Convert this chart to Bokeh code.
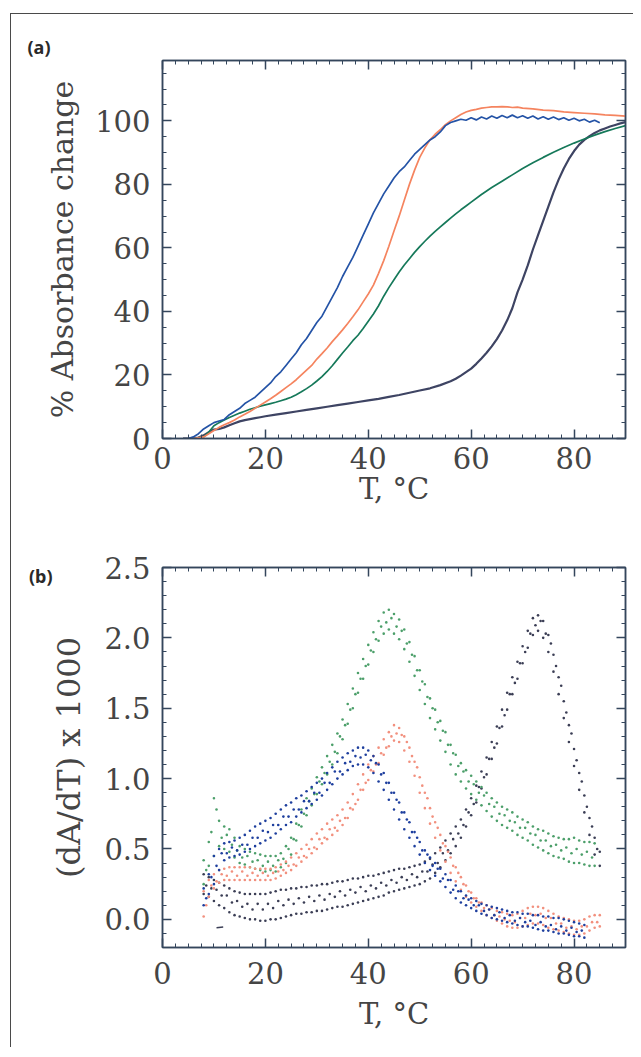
from bokeh.plotting import figure
from bokeh.models import (LinearAxis, SingleIntervalTicker, FixedTicker, Range1d,
                          PrintfTickFormatter, CustomJSTickFormatter)
from bokeh.layouts import column
from bokeh.embed import file_html
from bokeh.resources import INLINE

# ---------------- Panel (a): % absorbance change vs T ----------------
T_BLUE_A = list(range(4, 86))
A_BLUE = [0, 0, 0.5, 1.5, 3, 4, 5, 5.5, 6, 7.5, 8.5, 9.5, 11, 12, 13, 14.5, 16, 17.5,
          19.5, 21, 23, 25, 27, 29.5, 31.5, 34, 36.5, 38.5, 41.5, 44.5, 47.5, 51, 54,
          57, 60.5, 64, 67.5, 71, 74, 77, 79.5, 82, 84, 85.5, 87.5, 89.5, 91, 92.5, 94,
          95, 96.5, 98.5, 99.5, 100, 100.5, 100.2, 101, 100.3, 101.2, 100.6, 101.5,
          100.8, 101.7, 101, 101.8, 101, 101.6, 100.8, 101.5, 100.6, 101.3, 100.5,
          101.2, 100.4, 101, 100.2, 100.8, 100, 100.5, 99.6, 100.2, 99.4]

T_ORANGE_A = [4, 6, 8] + list(range(9, 71)) + list(range(72, 91, 2))
A_ORANGE = [0, 0, 0.5, 1.5, 2.5, 3.5, 4.3, 5, 5.8, 6.8, 7.6, 8.5, 9.5, 10.5, 11.5, 12.5,
            13.6, 14.8, 16, 17.2, 18.5, 20, 21.5, 23, 25, 26.7, 28.5, 30.5, 32.3, 34.2,
            36.2, 38.3, 40.5, 43, 45.5, 48.3, 52, 56, 60.5, 65.3, 70, 75, 80, 84.5, 88.5,
            91.5, 94, 95.8, 97.2, 98.8, 100, 101, 102, 102.8, 103.3, 103.6, 104, 104.2,
            104.4, 104.4, 104.5, 104.4, 104.2, 104.3, 104, 103.8, 103.4, 103.2, 102.8,
            102.6, 102.4, 102.2, 101.9, 101.7, 101.5]

T_GREEN_A = [4, 6] + list(range(8, 61)) + list(range(62, 91, 2))
A_GREEN = [0, 0, 0.5, 2, 4, 5, 5.8, 6.6, 7.3, 8, 8.6, 9.2, 9.7, 10.2, 10.6, 11, 11.4, 11.9,
           12.4, 13, 13.8, 14.7, 15.7, 16.8, 18.1, 19.5, 21.1, 22.9, 24.9, 26.9, 28.8,
           30.8, 32.5, 34.6, 36.9, 39.2, 41.8, 44.8, 47.5, 50.0, 52.4, 54.6, 56.6, 58.6,
           60.4, 62.1, 63.7, 65.2, 66.6, 68.0, 69.4, 70.7, 72.0, 73.2, 74.4, 76.8, 79.0,
           81.0, 83.0, 85.0, 86.8, 88.5, 90.1, 91.6, 93.0, 94.3, 95.5, 96.6, 97.6, 98.5]

T_DARK_A = [4, 6, 7] + list(range(8, 21)) + list(range(22, 55, 2)) + list(range(56, 91))
A_DARK = [0, 0, 0.3, 1, 2, 2.8, 3.0, 3.5, 4.2, 4.8, 5.4, 5.8, 6.1, 6.4, 6.7, 7,
          7.5, 8, 8.5, 9, 9.5, 10, 10.5, 11, 11.5, 12, 12.5, 13.1, 13.7, 14.4, 15.1, 15.8, 16.8,
          18, 18.8, 19.8, 20.9, 22, 23.5, 25.2, 27, 29, 31.3, 34, 37.2, 41, 46, 50, 54.5,
          59.5, 64, 68.5, 73, 77.5, 81.5, 85, 88, 90.5, 92.5, 94, 95.2, 96.2, 97, 97.6,
          98.2, 98.7, 99.2, 99.6]

# ---------------- Panel (b): (dA/dT) x 1000 vs T ----------------
# each dot band: upper edge, lower edge (at whole degrees) and a middle row (at half degrees)
T_GREEN_B = list(range(8, 85))
D_GREEN_HI = [0.42, 0.55, 0.86, 0.70, 0.66, 0.64, 0.58, 0.52, 0.50, 0.48,
              0.47, 0.46, 0.45, 0.45, 0.45, 0.47, 0.52, 0.58, 0.68, 0.78,
              0.86, 0.93, 1.01, 1.08, 1.16, 1.24, 1.32, 1.42, 1.53, 1.64,
              1.75, 1.85, 1.95, 2.04, 2.12, 2.18, 2.20, 2.17, 2.13, 2.06,
              1.97, 1.87, 1.77, 1.67, 1.57, 1.49, 1.41, 1.33, 1.24, 1.17,
              1.11, 1.06, 1.02, 0.98, 0.94, 0.90, 0.86, 0.83, 0.80, 0.78,
              0.76, 0.73, 0.71, 0.69, 0.66, 0.64, 0.63, 0.61, 0.59, 0.58,
              0.57, 0.57, 0.58, 0.56, 0.55, 0.55, 0.54]
D_GREEN_LO = [0.25, 0.38, 0.45, 0.52, 0.50, 0.48, 0.44, 0.40, 0.39, 0.37,
              0.36, 0.35, 0.34, 0.35, 0.34, 0.37, 0.40, 0.46, 0.56, 0.66,
              0.74, 0.81, 0.89, 0.96, 1.03, 1.10, 1.18, 1.28, 1.39, 1.50,
              1.61, 1.71, 1.81, 1.90, 1.98, 2.03, 2.06, 2.03, 1.99, 1.92,
              1.83, 1.73, 1.63, 1.53, 1.43, 1.35, 1.27, 1.19, 1.10, 1.03,
              0.98, 0.93, 0.89, 0.85, 0.81, 0.77, 0.73, 0.70, 0.67, 0.65,
              0.63, 0.60, 0.58, 0.56, 0.53, 0.51, 0.49, 0.47, 0.45, 0.44,
              0.43, 0.41, 0.40, 0.40, 0.39, 0.38, 0.38]
T_GREEN_BM = [t + 0.5 for t in range(8, 84)]
D_GREEN_MID = [0.35, 0.62, 0.78, 0.58, 0.60, 0.53, 0.49, 0.44, 0.45, 0.41,
               0.42, 0.38, 0.41, 0.38, 0.42, 0.43, 0.50, 0.57, 0.67, 0.75,
               0.84, 0.89, 0.98, 1.04, 1.12, 1.19, 1.30, 1.38, 1.49, 1.60,
               1.71, 1.80, 1.91, 1.99, 2.08, 2.11, 2.14, 2.08, 2.05, 1.96,
               1.88, 1.77, 1.69, 1.58, 1.50, 1.40, 1.34, 1.24, 1.18, 1.09,
               1.05, 0.98, 0.96, 0.90, 0.88, 0.82, 0.80, 0.75, 0.74, 0.70,
               0.69, 0.65, 0.65, 0.61, 0.60, 0.56, 0.56, 0.52, 0.53, 0.49,
               0.51, 0.47, 0.50, 0.46, 0.48, 0.44]

T_BLUE_B = list(range(8, 83))
D_BLUE_HI = [0.22, 0.32, 0.45, 0.50, 0.54, 0.55, 0.56, 0.58, 0.60, 0.63,
             0.66, 0.68, 0.70, 0.72, 0.75, 0.78, 0.81, 0.83, 0.86, 0.88,
             0.91, 0.94, 0.97, 1.00, 1.04, 1.08, 1.12, 1.15, 1.18, 1.20,
             1.22, 1.22, 1.20, 1.16, 1.10, 1.04, 0.97, 0.90, 0.83, 0.76,
             0.69, 0.62, 0.55, 0.49, 0.44, 0.40, 0.36, 0.32, 0.28, 0.24,
             0.20, 0.17, 0.15, 0.13, 0.11, 0.10, 0.09, 0.08, 0.07, 0.06,
             0.05, 0.05, 0.04, 0.04, 0.03, 0.03, 0.02, 0.02, 0.01, 0.01,
             0.00, -0.01, -0.02, -0.03, -0.04]
D_BLUE_LO = [0.10, 0.18, 0.25, 0.35, 0.42, 0.44, 0.45, 0.46, 0.48, 0.50,
             0.52, 0.54, 0.56, 0.58, 0.61, 0.64, 0.67, 0.69, 0.73, 0.76,
             0.79, 0.82, 0.85, 0.88, 0.92, 0.96, 1.00, 1.03, 1.06, 1.09,
             1.10, 1.10, 1.08, 1.04, 0.98, 0.92, 0.85, 0.78, 0.71, 0.64,
             0.58, 0.52, 0.46, 0.40, 0.35, 0.31, 0.27, 0.23, 0.19, 0.15,
             0.12, 0.10, 0.08, 0.06, 0.04, 0.03, 0.01, 0.00, -0.01, -0.02,
             -0.03, -0.04, -0.05, -0.05, -0.06, -0.07, -0.08, -0.08, -0.09, -0.10,
             -0.10, -0.11, -0.12, -0.12, -0.13]
T_BLUE_BM = [t + 0.5 for t in range(8, 82)]
D_BLUE_MID = [0.15, 0.30, 0.38, 0.47, 0.47, 0.51, 0.49, 0.53, 0.53, 0.58,
              0.58, 0.63, 0.62, 0.67, 0.67, 0.73, 0.73, 0.78, 0.78, 0.84,
              0.84, 0.90, 0.90, 0.97, 0.97, 1.05, 1.05, 1.11, 1.12, 1.16,
              1.15, 1.17, 1.13, 1.11, 1.03, 0.97, 0.90, 0.85, 0.76, 0.71,
              0.62, 0.58, 0.49, 0.46, 0.38, 0.36, 0.29, 0.28, 0.21, 0.20,
              0.15, 0.14, 0.10, 0.10, 0.06, 0.07, 0.03, 0.05, 0.01, 0.03,
              -0.01, 0.01, -0.02, -0.01, -0.04, -0.02, -0.05, -0.04, -0.07, -0.05,
              -0.08, -0.06, -0.09, -0.08]

T_SALMON_B = list(range(8, 86))
D_SALMON_HI = [0.20, 0.28, 0.32, 0.35, 0.36, 0.37, 0.37, 0.37, 0.37, 0.37,
               0.36, 0.36, 0.36, 0.36, 0.37, 0.39, 0.41, 0.44, 0.47, 0.50,
               0.53, 0.57, 0.61, 0.64, 0.68, 0.71, 0.74, 0.78, 0.83, 0.89,
               0.96, 1.03, 1.10, 1.16, 1.22, 1.28, 1.33, 1.38, 1.36, 1.30,
               1.22, 1.12, 1.01, 0.90, 0.79, 0.69, 0.60, 0.52, 0.44, 0.37,
               0.30, 0.24, 0.19, 0.15, 0.12, 0.10, 0.08, 0.06, 0.05, 0.04,
               0.03, 0.04, 0.06, 0.08, 0.09, 0.09, 0.08, 0.06, 0.04, 0.02,
               0.01, 0.00, -0.01, -0.01, 0.00, 0.02, 0.03, 0.03]
D_SALMON_LO = [0.02, 0.16, 0.22, 0.26, 0.28, 0.28, 0.28, 0.28, 0.28, 0.28,
               0.28, 0.28, 0.28, 0.28, 0.29, 0.31, 0.33, 0.35, 0.38, 0.41,
               0.44, 0.47, 0.50, 0.54, 0.57, 0.60, 0.63, 0.67, 0.72, 0.78,
               0.85, 0.92, 0.99, 1.05, 1.11, 1.17, 1.23, 1.27, 1.26, 1.20,
               1.12, 1.02, 0.90, 0.79, 0.68, 0.58, 0.49, 0.41, 0.33, 0.27,
               0.21, 0.16, 0.12, 0.09, 0.06, 0.03, 0.01, -0.01, -0.03, -0.05,
               -0.06, -0.06, -0.05, -0.04, -0.03, -0.03, -0.04, -0.06, -0.07, -0.08,
               -0.09, -0.10, -0.11, -0.11, -0.10, -0.08, -0.06, -0.05]
T_SALMON_BM = [t + 0.5 for t in range(8, 85)]
D_SALMON_MID = [0.10, 0.24, 0.27, 0.32, 0.31, 0.34, 0.31, 0.34, 0.31, 0.33,
                0.31, 0.33, 0.31, 0.33, 0.34, 0.35, 0.38, 0.39, 0.44, 0.45,
                0.50, 0.51, 0.57, 0.58, 0.64, 0.65, 0.70, 0.72, 0.79, 0.82,
                0.92, 0.97, 1.06, 1.10, 1.18, 1.22, 1.30, 1.32, 1.31, 1.26,
                1.16, 1.08, 0.95, 0.86, 0.73, 0.65, 0.54, 0.48, 0.38, 0.33,
                0.25, 0.20, 0.15, 0.12, 0.08, 0.07, 0.03, 0.02, 0.00, -0.01,
                -0.02, 0.01, 0.01, 0.04, 0.03, 0.04, 0.01, 0.01, -0.03, -0.03,
                -0.06, -0.05, -0.07, -0.05, -0.05, -0.02, -0.02]

T_DARK_B = list(range(8, 86))
D_DARK_HI = [0.32, 0.30, 0.28, 0.26, 0.24, 0.22, 0.20, 0.19, 0.18, 0.18,
             0.18, 0.18, 0.18, 0.19, 0.20, 0.21, 0.21, 0.22, 0.22, 0.23,
             0.23, 0.24, 0.24, 0.25, 0.25, 0.26, 0.27, 0.27, 0.28, 0.29,
             0.29, 0.30, 0.31, 0.31, 0.32, 0.33, 0.34, 0.35, 0.36, 0.36,
             0.37, 0.38, 0.39, 0.41, 0.43, 0.47, 0.51, 0.56, 0.61, 0.66,
             0.71, 0.78, 0.86, 0.95, 1.05, 1.15, 1.26, 1.37, 1.49, 1.61,
             1.72, 1.83, 1.94, 2.05, 2.14, 2.16, 2.12, 2.02, 1.88, 1.72,
             1.55, 1.38, 1.21, 1.04, 0.88, 0.72, 0.58, 0.48]
D_DARK_LO = [0.18, 0.16, 0.13, 0.10, 0.08, 0.05, 0.03, 0.02, 0.01, 0.00,
             0.00, -0.01, -0.01, 0.00, 0.00, 0.01, 0.02, 0.03, 0.04, 0.04,
             0.05, 0.05, 0.06, 0.06, 0.07, 0.08, 0.09, 0.09, 0.10, 0.11,
             0.12, 0.13, 0.14, 0.15, 0.16, 0.17, 0.19, 0.20, 0.21, 0.22,
             0.23, 0.24, 0.25, 0.27, 0.29, 0.33, 0.37, 0.42, 0.47, 0.52,
             0.58, 0.66, 0.74, 0.83, 0.93, 1.03, 1.14, 1.25, 1.37, 1.49,
             1.60, 1.71, 1.82, 1.93, 2.02, 2.05, 2.00, 1.90, 1.76, 1.60,
             1.43, 1.26, 1.09, 0.92, 0.76, 0.60, 0.46, 0.38]
T_DARK_BM = [t + 0.5 for t in range(8, 85)]
D_DARK_MID = [0.24, 0.22, 0.21, 0.17, 0.17, 0.12, 0.13, 0.09, 0.11, 0.07,
              0.11, 0.07, 0.11, 0.08, 0.13, 0.10, 0.14, 0.11, 0.15, 0.12,
              0.16, 0.13, 0.17, 0.14, 0.18, 0.16, 0.20, 0.17, 0.21, 0.19,
              0.23, 0.20, 0.24, 0.22, 0.26, 0.24, 0.28, 0.26, 0.30, 0.28,
              0.32, 0.30, 0.34, 0.34, 0.39, 0.40, 0.47, 0.49, 0.57, 0.61,
              0.67, 0.76, 0.82, 0.94, 1.01, 1.14, 1.22, 1.36, 1.45, 1.60,
              1.68, 1.82, 1.90, 2.03, 2.09, 2.12, 2.03, 1.96, 1.80, 1.66,
              1.47, 1.32, 1.13, 0.98, 0.80, 0.66, 0.50]

T_DASH = [10.5, 11.8]
D_DASH = [-0.06, -0.055]

# ---------------- styling ----------------
AX = "#34465c"
TXT = "#454545"
SERIF = "DejaVu Serif"


def make_axis(interval, n_minor, show, fmt=None):
    ax = LinearAxis(ticker=SingleIntervalTicker(interval=interval, num_minor_ticks=n_minor))
    ax.axis_line_color = AX
    ax.axis_line_width = 1.5
    ax.major_tick_line_color = AX
    ax.major_tick_line_width = 1.5
    ax.minor_tick_line_color = AX
    ax.minor_tick_line_width = 1
    ax.major_tick_in = 9
    ax.major_tick_out = 0
    ax.minor_tick_in = 4
    ax.minor_tick_out = 0
    if show:
        ax.major_label_text_font = SERIF
        ax.major_label_text_font_size = "29px"
        ax.major_label_text_color = TXT
        ax.axis_label_text_font = SERIF
        ax.axis_label_text_font_size = "29px"
        ax.axis_label_text_font_style = "normal"
        ax.axis_label_text_color = TXT
        if fmt:
            ax.formatter = PrintfTickFormatter(format=fmt)
    else:
        ax.major_label_text_color = None
        ax.major_label_text_font_size = "1px"
        ax.major_label_standoff = 0
    return ax


def base_fig(h, ymin, ymax, top, bottom):
    p = figure(width=622, height=h, x_range=Range1d(0, 90), y_range=Range1d(ymin, ymax),
               x_axis_location=None, y_axis_location=None,
               output_backend="svg", toolbar_location=None,
               min_border_left=151, min_border_right=8,
               min_border_top=top, min_border_bottom=bottom)
    p.grid.visible = False
    p.outline_line_color = AX
    p.outline_line_width = 1.5
    p.background_fill_color = "white"
    p.border_fill_color = "white"
    return p


# ---- panel (a)
p1 = base_fig(516, 0, 119, 46, 92)
p1.title.text = "(a)"
p1.title.text_font = "Noto Sans"
p1.title.text_font_size = "18px"
p1.title.text_font_style = "bold"
p1.title.text_color = "#2a2a2a"
p1.title.align = "left"
p1.title.offset = -135
p1.title.standoff = 3

bx = make_axis(20, 8, True)
bx.axis_label = "T, °C"
bx.major_label_standoff = 8
bx.axis_label_standoff = 0
p1.add_layout(bx, "below")
p1.add_layout(make_axis(20, 8, False), "above")
ly = make_axis(20, 4, True)
ly.axis_label = "% Absorbance change"
ly.axis_label_text_font_size = "30px"
ly.major_label_standoff = 12
ly.axis_label_standoff = 12
p1.add_layout(ly, "left")
p1.add_layout(make_axis(20, 4, False), "right")

p1.line(T_DARK_A, A_DARK, line_color="#3e4463", line_width=2.2)
p1.line(T_GREEN_A, A_GREEN, line_color="#16795a", line_width=1.7)
p1.line(T_ORANGE_A, A_ORANGE, line_color="#f5845f", line_width=1.7)
p1.line(T_BLUE_A, A_BLUE, line_color="#2453a6", line_width=1.7)

# ---- panel (b)
p2 = base_fig(517, -0.2, 2.5, 37, 100)
bx2 = make_axis(20, 8, True)
bx2.axis_label = "T, °C"
bx2.major_label_standoff = 14
bx2.axis_label_standoff = 10
p2.add_layout(bx2, "below")
p2.add_layout(make_axis(20, 8, False), "above")
ly2 = make_axis(0.5, 5, True, fmt="%.1f")
ly2.axis_label = "(dA/dT) x 1000"
ly2.axis_label_text_font_size = "32px"
ly2.major_label_standoff = 12
ly2.axis_label_standoff = 13
p2.add_layout(ly2, "left")
# panel tag "(b)" carried by an extra, line-less left axis with one fixed tick
tag = LinearAxis(ticker=FixedTicker(ticks=[2.44], minor_ticks=[]),
                 formatter=CustomJSTickFormatter(code="return '(b)'"))
tag.axis_line_color = None
tag.major_tick_line_color = None
tag.minor_tick_line_color = None
tag.major_label_text_font = "Noto Sans"
tag.major_label_text_font_size = "18px"
tag.major_label_text_font_style = "bold"
tag.major_label_text_color = "#2a2a2a"
tag.major_label_standoff = -11
p2.add_layout(tag, "left")
p2.add_layout(make_axis(0.5, 5, False), "right")

for T, hi, lo, TM, mid, col in [
        (T_DARK_B, D_DARK_HI, D_DARK_LO, T_DARK_BM, D_DARK_MID, "#3b3e55"),
        (T_GREEN_B, D_GREEN_HI, D_GREEN_LO, T_GREEN_BM, D_GREEN_MID, "#4c9f6a"),
        (T_SALMON_B, D_SALMON_HI, D_SALMON_LO, T_SALMON_BM, D_SALMON_MID, "#f2907e"),
        (T_BLUE_B, D_BLUE_HI, D_BLUE_LO, T_BLUE_BM, D_BLUE_MID, "#1e3f9e")]:
    p2.scatter(T, hi, size=2.6, color=col, line_color=None)
    p2.scatter(T, lo, size=2.6, color=col, line_color=None)
    p2.scatter(TM, mid, size=2.6, color=col, line_color=None)
p2.line(T_DASH, D_DASH, line_color="#3b3e55", line_width=1.5)

layout = column(p1, p2, margin=(13, 0, 0, 10),
                styles={"border-left": "1.5px solid #4a4a4a", "border-top": "1.5px solid #4a4a4a"})

open("out.html", "w").write(file_html(layout, INLINE))
